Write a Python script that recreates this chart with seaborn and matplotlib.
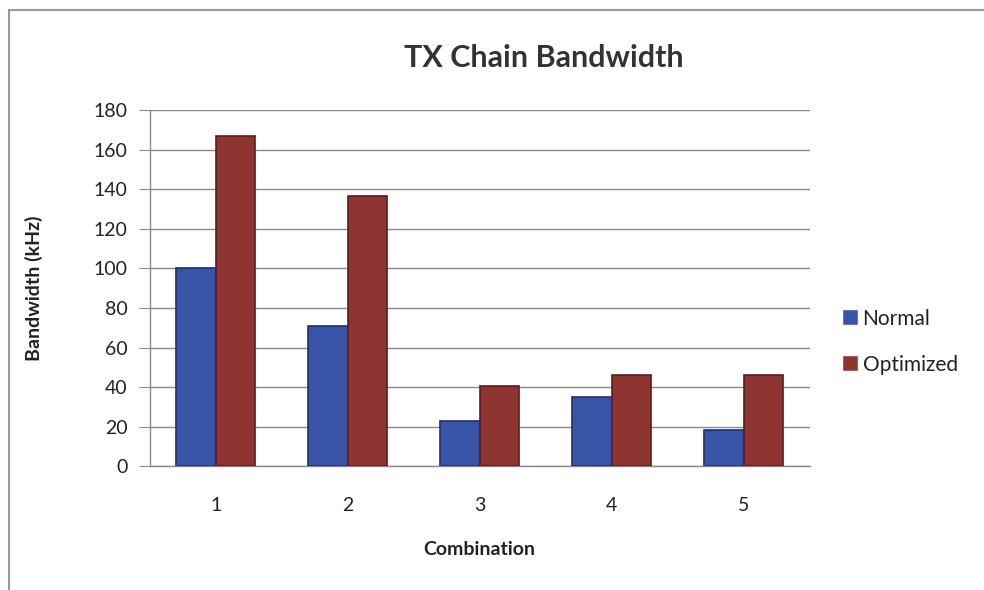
import numpy as np
import pandas as pd
import matplotlib
matplotlib.use('Agg')
import matplotlib.pyplot as plt
import seaborn as sns
from matplotlib.lines import Line2D

combos = ['1', '2', '3', '4', '5']
normal = [100, 71, 23, 35, 18.5]
optimized = [167, 136.5, 40.5, 46, 46]

df = pd.DataFrame({
    'Combination': combos * 2,
    'Bandwidth': normal + optimized,
    'Series': ['Normal'] * 5 + ['Optimized'] * 5,
})

sns.set_style('white')
plt.rcParams['font.family'] = ['Lato', 'DejaVu Sans']

fig = plt.figure(figsize=(9.84, 5.9), dpi=100)
ax = fig.add_axes([0.152, 0.21, 0.671, 0.603])

pal = {'Normal': '#3A55A8', 'Optimized': '#8E3431'}
sns.barplot(data=df, x='Combination', y='Bandwidth', hue='Series',
            palette=pal, width=0.6, ax=ax, saturation=1)

edges = {'Normal': '#1F2F6E', 'Optimized': '#5A1E1C'}
for cont, name in zip(ax.containers, ['Normal', 'Optimized']):
    for bar in cont:
        bar.set_edgecolor(edges[name])
        bar.set_linewidth(1.2)
        bar.set_zorder(3)

ax.set_ylim(0, 180)
ax.set_xlim(-0.5, 4.5)
ax.set_yticks(np.arange(0, 181, 20))
ax.yaxis.grid(True, color='#8a8a8a', linewidth=1)
ax.set_axisbelow(True)

for s in ['top', 'right']:
    ax.spines[s].set_visible(False)
for s in ['left', 'bottom']:
    ax.spines[s].set_color('#8a8a8a')
    ax.spines[s].set_linewidth(1)

ax.tick_params(axis='x', which='major', length=0, pad=22, labelsize=14, labelcolor='#222222')
ax.set_xticks(np.arange(-0.5, 5, 1), minor=True)
ax.tick_params(axis='x', which='minor', length=6, color='#8a8a8a', direction='out')
ax.tick_params(axis='y', length=8, color='#8a8a8a', direction='out', labelsize=14,
               left=True, pad=8, labelcolor='#222222')

ax.set_xlabel('Combination', fontsize=14, fontweight='bold', labelpad=20, color='#222222')
ax.set_ylabel('Bandwidth (kHz)', fontsize=14, fontweight='bold', labelpad=36, color='#222222')
fig.suptitle('TX Chain Bandwidth', x=0.553, y=0.925, fontsize=22, fontweight='bold', color='#333333')

leg = ax.legend(loc='center left', bbox_to_anchor=(1.02, 0.35), frameon=False,
                fontsize=15, handlelength=0.8, handleheight=0.8, handletextpad=0.2,
                labelspacing=1.25)
for t in leg.get_texts():
    t.set_color('#222222')

# chart-area border (top and left edges only visible in the scan)
fig.add_artist(Line2D([9 / 984, 1.0], [1 - 10 / 590, 1 - 10 / 590],
                      transform=fig.transFigure, color='#999999', linewidth=1.5))
fig.add_artist(Line2D([9 / 984, 9 / 984], [0, 1 - 10 / 590],
                      transform=fig.transFigure, color='#999999', linewidth=1.5))

fig.savefig('out.png', dpi=100)
